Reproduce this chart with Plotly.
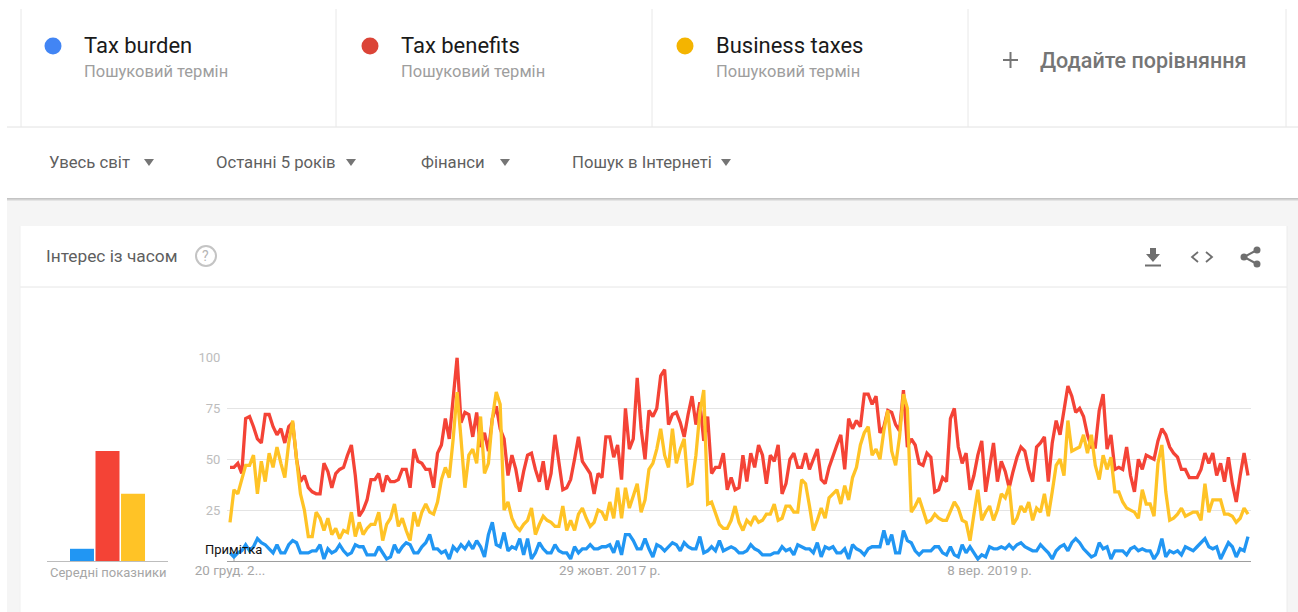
import pandas as pd
import plotly.graph_objects as go

W, H = 1298, 612

# Weekly search interest, one list per search term
tax_burden = [
    4,2,4,5,8,5,7,11,9,8, 6,4,8,4,4,8,10,9,4,4, 4,5,5,8,1,6,4,5,8,5,
    3,4,8,7,7,3,3,3,7,4, 1,2,8,4,7,9,8,4,4,7, 9,13,6,6,4,5,1,7,5,8,
    6,9,6,10,7,2,13,19,8,7, 14,5,7,6,11,3,11,1,4,9, 6,4,
    4,8,5,4,4,1,7,4,6,6, 8,6,6,7,7,8,4,10,3,13, 13,10,6,6,11,6,2,8,7,5,
    7,9,8,5,9,7,6,6,12,4, 5,7,5,10,5,6,7,6,4,4, 5,8,6,5,3,3,3,4,4,7,
    5,6,3,8,7,6,6,4,9,2, 7,6,7,4,4,6,1,8,6,5, 3,6,7,7,7,15,8,13,4,4,
    15,10,9,5,3,5,5,5,7,7, 4,3,7,3,2,8,4,7,4,1, 3,2,7,6,6,7,6,8,6,8,
    9,7,6,5,5,8,6,4,1,5, 7,8,5,9,11,9,6,4,2,3, 9,6,7,1,5,5,5,3,6,7,
    5,6,5,5,1,4,11,2,5,4, 5,3,7,6,5,7,9,11,7,6, 7,1,5,9,7,2,6,5,12,
]
tax_benefits = [
    46,46,48,43,70,71,66,60,58,72, 72,66,62,65,58,66,68,50,39,42,
    36,34,33,33,48,44,36,43,45,46, 52,57,42,22,25,30,40,40,43,34,
    42,39,39,40,45,45,36,55,49,48, 45,45,36,53,57,70,60,82,100,68,
    73,72,61,73,56,63,54,70,76,65, 60,42,52,45,34,44,52,53,45,39, 49,35,
    43,62,48,35,36,40,50,61,49,46, 43,33,43,41,61,61,51,57,40,75,
    55,60,90,65,50,74,71,75,91,94, 67,72,73,68,61,72,81,67,78,59,
    71,43,46,46,53,35,41,35,36,52, 39,53,46,57,52,38,52,49,57,33,
    38,50,53,46,46,53,45,50,55,40, 38,46,52,57,62,45,70,65,69,66,
    82,82,77,81,63,66,74,73,67,64,
    84,56,60,57,48,47,53,51,34,35, 41,39,70,75,56,48,53,35,42,52,
    59,34,46,58,39,49,44,36,44,51, 56,54,45,39,56,58,61,39,58,69,
    62,75,86,81,73,75,71,62,56,56, 74,82,55,62,45,46,45,56,42,34,
    50,45,52,51,50,59,65,62,56,53, 51,45,45,41,41,41,45,53,48,53,
    42,48,39,51,38,29,42,53,42,
]
business_taxes = [
    19,35,33,40,47,47,52,33,49,39, 53,46,56,48,41,58,69,50,33,25,
    12,12,24,21,15,21,13,16,11,15, 14,24,12,19,13,16,18,18,24,10,
    18,21,28,17,21,15,10,24,17,24, 28,24,23,29,40,46,41,60,83,60,
    36,52,55,48,71,43,48,70,83,77, 25,29,21,17,15,18,20,26,13,18, 22,20,
    19,17,17,27,15,20,15,23,26,21, 17,19,25,24,20,29,21,36,21,36,
    26,32,38,24,30,45,48,55,65,52, 46,65,48,55,60,37,38,52,73,84,
    28,29,24,18,16,16,20,27,19,15, 20,18,22,19,20,23,23,28,20,21,
    27,27,24,24,40,38,27,15,20,26, 21,31,33,35,28,37,30,41,46,57,
    63,66,52,55,50,64,74,54,47,61,
    82,75,24,27,31,25,19,20,23,21, 20,20,25,29,26,20,19,10,23,35,
    20,24,27,20,25,33,31,37,18,21, 27,24,29,20,26,24,33,22,34,47,
    50,42,69,54,55,56,62,53,62,47, 40,52,45,51,34,34,29,26,25,24,
    21,35,28,28,22,48,57,34,20,21, 23,26,22,23,24,24,20,38,24,30,
    30,30,23,23,22,19,21,26,23,
]

term_names = ["Tax burden", "Tax benefits", "Business taxes"]
average_values = [6, 54, 33]
first_week = "2015-12-20"
date_ticks = ["2015-12-20", "2017-10-29", "2019-09-08"]
date_labels = ["20 груд. 2...", "29 жовт. 2017 р.", "8 вер. 2019 р."]
interest_ticks = [0, 25, 50, 75, 100]
interest_labels = ["", "25", "50", "75", "100"]
subtitle = "Пошуковий термін"
add_label = "Додайте порівняння"
filter_labels = ["Увесь світ", "Останні 5 років", "Фінанси", "Пошук в Інтернеті"]
card_title = "Інтерес із часом"
average_label = "Середні показники"
note_label = "Примітка"

LINE_COLORS = ["#2196f3", "#f44336", "#ffc326"]
DOT_COLORS = ["#4285f4", "#db4437", "#f4b400"]
FONT = "Roboto"


def fx(px):
    return px / W


def fy(py):
    return 1 - py / H


def rect(x0, y0, x1, y1, color):
    return dict(type="rect", xref="paper", yref="paper", x0=fx(x0), x1=fx(x1), y0=fy(y1), y1=fy(y0),
                fillcolor=color, line_width=0, layer="below")


def seg(x0, y0, x1, y1, color, width=1):
    return dict(type="line", xref="paper", yref="paper", x0=fx(x0), x1=fx(x1), y0=fy(y0), y1=fy(y1),
                line=dict(color=color, width=width), layer="below")


def disc(cx, cy, r, fill, edge=None, width=0):
    return dict(type="circle", xref="paper", yref="paper", x0=fx(cx - r), x1=fx(cx + r),
                y0=fy(cy + r), y1=fy(cy - r), fillcolor=fill,
                line=dict(color=edge or fill, width=width), layer="below")


def poly(points, fill, edge=None, width=0, closed=True):
    cmds = " ".join(("M" if i == 0 else "L") + f"{fx(x):.5f},{fy(y):.5f}" for i, (x, y) in enumerate(points))
    return dict(type="path", xref="paper", yref="paper", path=cmds + (" Z" if closed else ""),
                fillcolor=fill, line=dict(color=edge or fill, width=width), layer="below")


def label(px, py, text, size, color, anchor="left", weight=None):
    return dict(xref="paper", yref="paper", x=fx(px), y=fy(py), text=text, showarrow=False,
                xanchor=anchor, yanchor="middle", align="left", borderpad=0, borderwidth=0,
                font=dict(family=FONT, size=size, color=color, weight=weight))


shapes = []
annotations = []

# Page background, card and separators
shapes.append(rect(7, 199, W, H, "#f5f5f5"))
for i, shade in enumerate(["#c4c4c4", "#d2d2d2", "#e4e4e4"]):
    shapes.append(rect(7, 198 + i, W, 199 + i, shade))
shapes.append(rect(20, 226, 1287, H, "#ffffff"))
shapes.append(seg(20, 287, 1287, 287, "#e6e6e6"))
shapes.append(seg(1287, 226, 1287, H, "#ececec"))
shapes.append(seg(20, 226, 20, H, "#f0f0f0"))
shapes.append(seg(7, 127, W, 127, "#e2e2e2"))
for divider in [21, 336, 652, 968, 1286]:
    shapes.append(seg(divider, 9, divider, 127, "#e8e8e8"))

# Search term tabs
for name, cx, tx, dot in zip(term_names, [53, 370, 685], [84, 401, 716], DOT_COLORS):
    shapes.append(disc(cx, 46, 8.5, dot))
    annotations.append(label(tx, 46, name, 22, "#1a1a1a"))
    annotations.append(label(tx, 71.5, subtitle, 16.5, "#9e9e9e"))
shapes.append(seg(1003, 60, 1018, 60, "#757575", 2))
shapes.append(seg(1010.5, 52, 1010.5, 68, "#757575", 2))
annotations.append(label(1040, 61, add_label, 21.5, "#757575", weight=500))

# Filter row
for text, tx, ax in zip(filter_labels, [49, 216, 421, 572], [149, 351, 505, 726]):
    annotations.append(label(tx, 163, text, 16.7, "#5f5f5f"))
    shapes.append(poly([(ax - 5, 159), (ax + 5, 159), (ax, 166)], "#757575"))

# Card header and its icons
annotations.append(label(46, 256, card_title, 17.3, "#5f5f5f"))
shapes.append(disc(206, 256, 10, "#ffffff", "#c4c4c4", 2))
annotations.append(label(206, 256, "?", 14, "#b5b5b5", anchor="center"))
shapes.append(poly([(1150, 248), (1156, 248), (1156, 254), (1160, 254), (1153, 262), (1146, 254), (1150, 254)], "#6f6f6f"))
shapes.append(seg(1145, 265.5, 1161, 265.5, "#6f6f6f", 2))
shapes.append(poly([(1198, 252), (1192, 257), (1198, 262)], "rgba(0,0,0,0)", "#6f6f6f", 1.8, closed=False))
shapes.append(poly([(1206, 252), (1212, 257), (1206, 262)], "rgba(0,0,0,0)", "#6f6f6f", 1.8, closed=False))
shapes.append(poly([(1257, 250), (1244, 257), (1257, 264)], "rgba(0,0,0,0)", "#6f6f6f", 2, closed=False))
for cx, cy in [(1257, 250), (1244, 257), (1257, 264)]:
    shapes.append(disc(cx, cy, 3.5, "#6f6f6f"))

# Caption under the average bars, and the note marker on the time axis
shapes.append(seg(234, 556, 234, 561, "#9e9e9e"))
annotations.append(label(107.5, 572, average_label, 13, "#a6a6a6", anchor="center"))
annotations.append(label(233, 549, note_label, 13, "#111111", anchor="center"))

weeks = pd.date_range(first_week, periods=len(tax_burden), freq="7D")
px_per_week = (1248 - 230) / (len(tax_burden) - 1)
start = weeks[0] - pd.Timedelta(weeks=(230 - 227) / px_per_week)
end = weeks[-1] + pd.Timedelta(weeks=(1251 - 1248) / px_per_week)

fig = go.Figure()
for name, values, color in zip(term_names, [tax_burden, tax_benefits, business_taxes], LINE_COLORS):
    fig.add_trace(go.Scatter(x=weeks, y=values, name=name, mode="lines", cliponaxis=False,
                             line=dict(color=color, width=3.3, shape="linear"), xaxis="x", yaxis="y"))
fig.add_trace(go.Bar(x=[0, 1, 2], y=average_values, customdata=term_names,
                     marker=dict(color=LINE_COLORS, line_width=0),
                     width=0.94, xaxis="x2", yaxis="y2", showlegend=False))

y_domain = [fy(561), fy(357.5)]
fig.update_layout(
    width=W, height=H, margin=dict(l=0, r=0, t=0, b=0, autoexpand=False), autosize=False,
    paper_bgcolor="#ffffff", plot_bgcolor="rgba(0,0,0,0)", showlegend=False, hovermode=False,
    font=dict(family=FONT),
    shapes=shapes, annotations=annotations,
    xaxis=dict(domain=[fx(227), fx(1251)], range=[start, end], type="date",
               tickmode="array", tickvals=date_ticks, ticktext=date_labels,
               tickfont=dict(size=13.4, color="#a6a6a6"), showgrid=False, zeroline=False,
               showline=True, linecolor="#9e9e9e", linewidth=1, ticks="", ticklabelstandoff=-3),
    yaxis=dict(domain=y_domain, range=[0, 100], tickmode="array", tickvals=interest_ticks,
               ticktext=interest_labels, tickfont=dict(size=13, color="#bdbdbd"),
               gridcolor="#e4e4e4", gridwidth=1, zeroline=False, showline=False,
               ticks="outside", ticklen=3, tickcolor="rgba(0,0,0,0)"),
    xaxis2=dict(domain=[fx(47), fx(168)], range=[-1.37, 3.37], anchor="y2", type="linear",
                tickmode="array", tickvals=[], showgrid=False, zeroline=False,
                showline=True, linecolor="#bdbdbd", linewidth=1),
    yaxis2=dict(domain=y_domain, range=[0, 100], anchor="x2", visible=False),
)

fig.write_html("out.html")
